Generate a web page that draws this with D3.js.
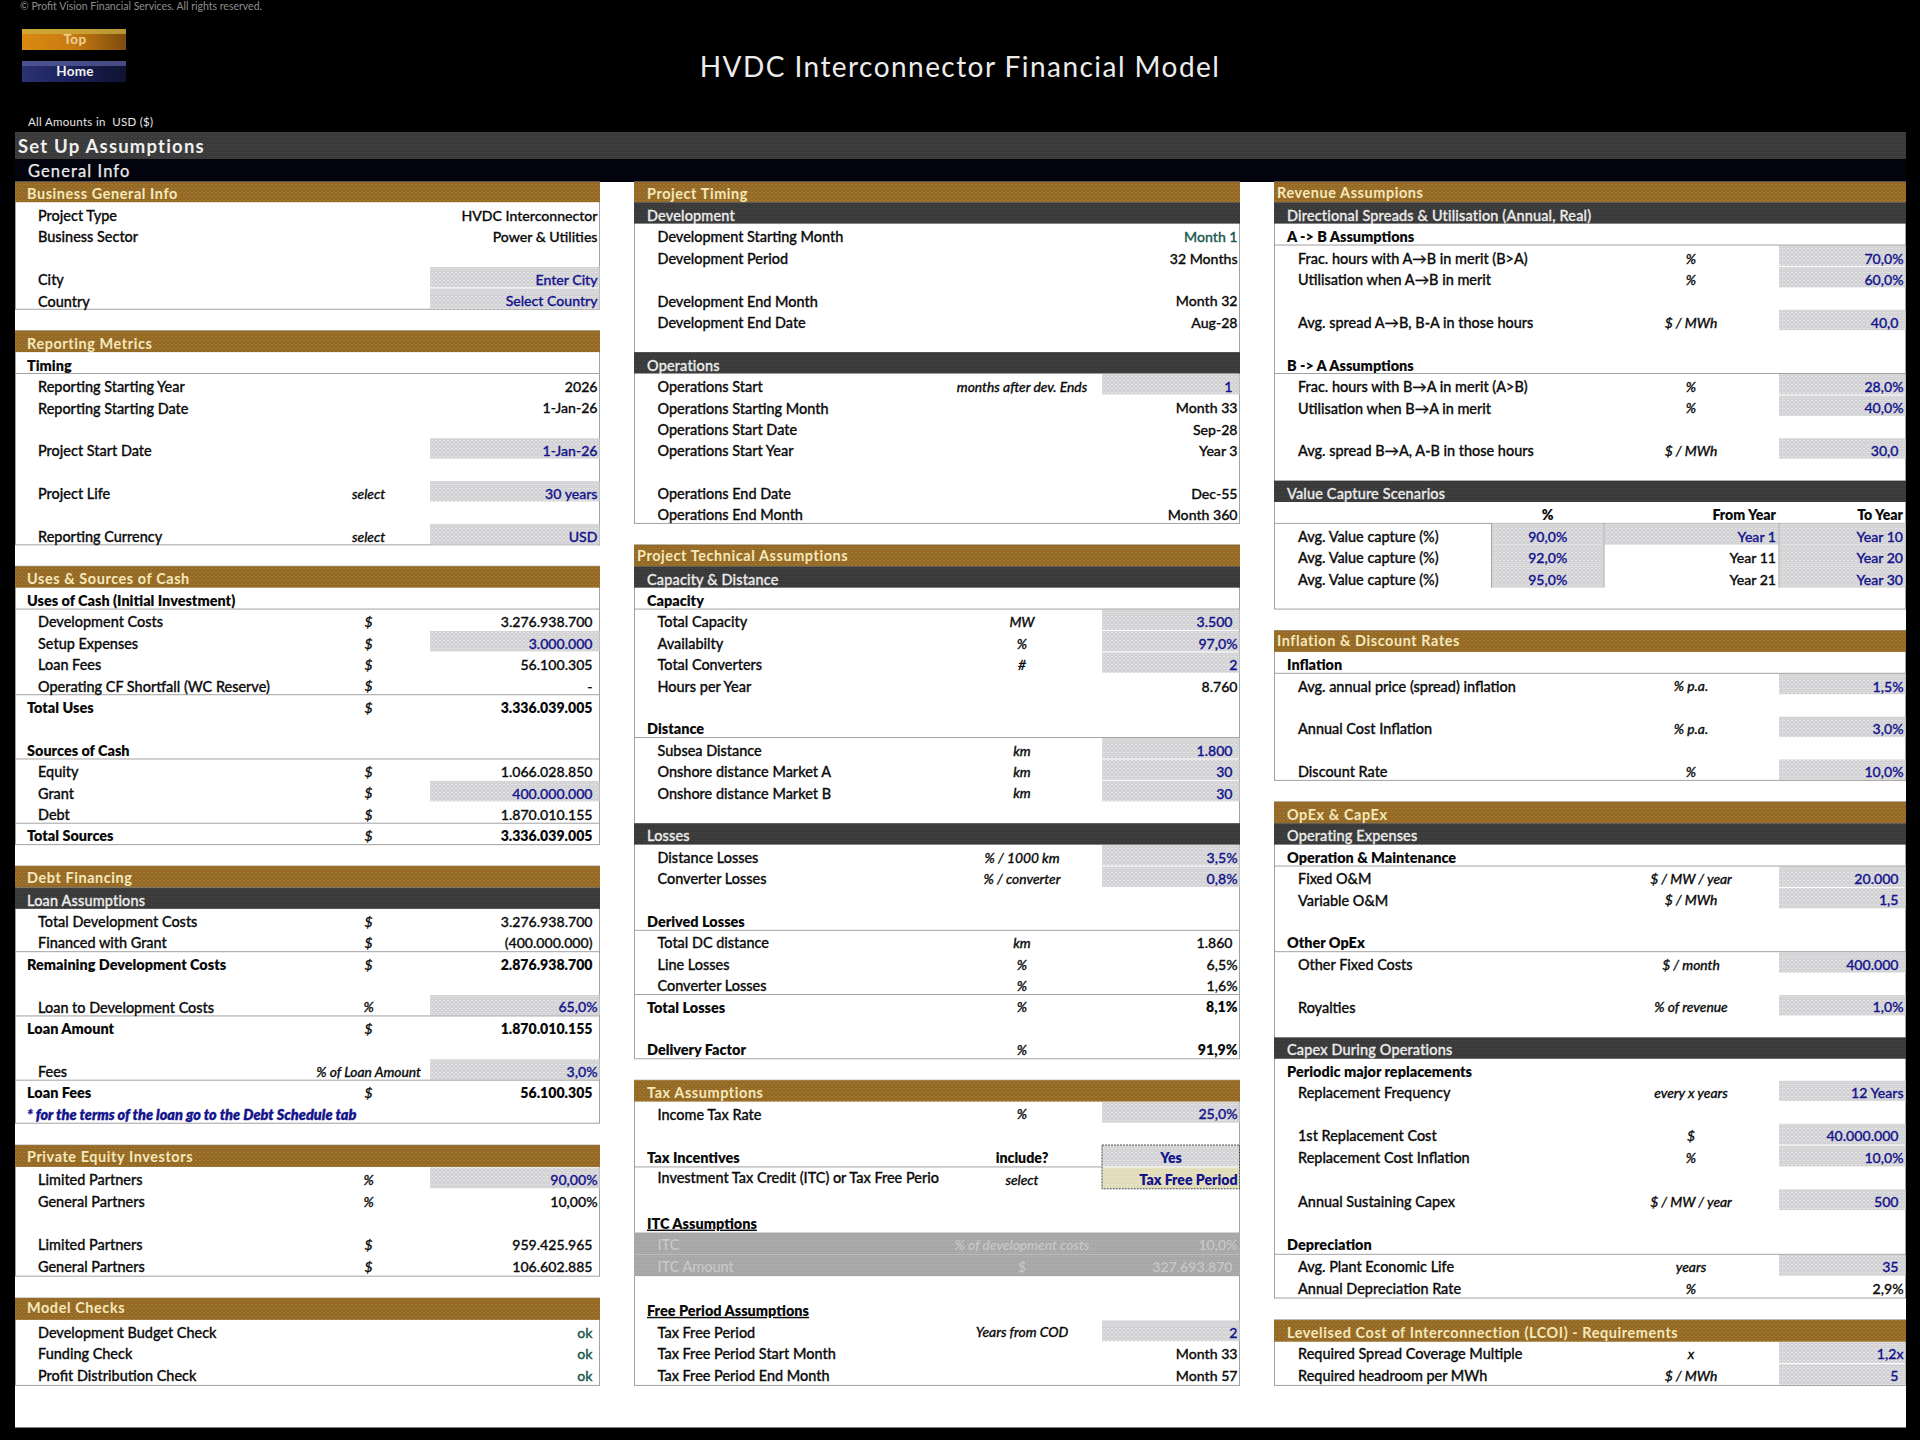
<![CDATA[<!DOCTYPE html>
<html>
<head>
<meta charset="utf-8">
<title>HVDC Interconnector Financial Model</title>
<script src="https://cdn.jsdelivr.net/npm/d3@7"></script>
<style>
  html, body { margin: 0; padding: 0; background: #000; }
  svg { display: block; }
  text { font-family: Lato, "Open Sans", sans-serif; white-space: pre; }
</style>
</head>
<body>
<div id="sheet"></div>
<script>
// row kinds: head = gold bar, dark = dark bar, sub = bold + rule below, total = bold + rule above,
// bold, note, ul = underlined bold, input, off = disabled band, choice = dropdown, pad = empty but inside the box
const leftRows = [
  ["head", "Business General Info"],
  ["", "Project Type", "", "HVDC Interconnector"],
  ["", "Business Sector", "", "Power & Utilities"],
  [],
  ["input", "City", "", "Enter City"],
  ["input", "Country", "", "Select Country"],
  [],
  ["head", "Reporting Metrics"],
  ["sub", "Timing"],
  ["", "Reporting Starting Year", "", "2026"],
  ["", "Reporting Starting Date", "", "1-Jan-26"],
  [],
  ["input", "Project Start Date", "", "1-Jan-26"],
  [],
  ["input", "Project Life", "select", "30 years"],
  [],
  ["input", "Reporting Currency", "select", "USD"],
  [],
  ["head", "Uses & Sources of Cash"],
  ["sub", "Uses of Cash (Initial Investment)"],
  ["", "Development Costs", "$", "3.276.938.700"],
  ["input", "Setup Expenses", "$", "3.000.000"],
  ["", "Loan Fees", "$", "56.100.305"],
  ["", "Operating CF Shortfall (WC Reserve)", "$", "-"],
  ["total", "Total Uses", "$", "3.336.039.005"],
  [],
  ["sub", "Sources of Cash"],
  ["", "Equity", "$", "1.066.028.850"],
  ["input", "Grant", "$", "400.000.000"],
  ["", "Debt", "$", "1.870.010.155"],
  ["total", "Total Sources", "$", "3.336.039.005"],
  [],
  ["head", "Debt Financing"],
  ["dark", "Loan Assumptions"],
  ["", "Total Development Costs", "$", "3.276.938.700"],
  ["", "Financed with Grant", "$", "(400.000.000)"],
  ["total", "Remaining Development Costs", "$", "2.876.938.700"],
  [],
  ["input", "Loan to Development Costs", "%", "65,0%"],
  ["total", "Loan Amount", "$", "1.870.010.155"],
  [],
  ["input", "Fees", "% of Loan Amount", "3,0%"],
  ["total", "Loan Fees", "$", "56.100.305"],
  ["note", "* for the terms of the loan go to the Debt Schedule tab"],
  [],
  ["head", "Private Equity Investors"],
  ["input", "Limited Partners", "%", "90,00%"],
  ["", "General Partners", "%", "10,00%"],
  [],
  ["", "Limited Partners", "$", "959.425.965"],
  ["", "General Partners", "$", "106.602.885"],
  [],
  ["head", "Model Checks"],
  ["check", "Development Budget Check", "", "ok"],
  ["check", "Funding Check", "", "ok"],
  ["check", "Profit Distribution Check", "", "ok"]
];

const middleRows = [
  ["head", "Project Timing"],
  ["dark", "Development"],
  ["check", "Development Starting Month", "", "Month 1"],
  ["", "Development Period", "", "32 Months"],
  [],
  ["", "Development End Month", "", "Month 32"],
  ["", "Development End Date", "", "Aug-28"],
  [],
  ["dark", "Operations"],
  ["input", "Operations Start", "months after dev. Ends", "1"],
  ["", "Operations Starting Month", "", "Month 33"],
  ["", "Operations Start Date", "", "Sep-28"],
  ["", "Operations Start Year", "", "Year 3"],
  [],
  ["", "Operations End Date", "", "Dec-55"],
  ["", "Operations End Month", "", "Month 360"],
  [],
  ["head", "Project Technical Assumptions"],
  ["dark", "Capacity & Distance"],
  ["sub", "Capacity"],
  ["input", "Total Capacity", "MW", "3.500"],
  ["input", "Availabilty", "%", "97,0%"],
  ["input", "Total Converters", "#", "2"],
  ["", "Hours per Year", "", "8.760"],
  [],
  ["sub", "Distance"],
  ["input", "Subsea Distance", "km", "1.800"],
  ["input", "Onshore distance Market A", "km", "30"],
  ["input", "Onshore distance Market B", "km", "30"],
  [],
  ["dark", "Losses"],
  ["input", "Distance Losses", "% / 1000 km", "3,5%"],
  ["input", "Converter Losses", "% / converter", "0,8%"],
  [],
  ["sub", "Derived Losses"],
  ["", "Total DC distance", "km", "1.860"],
  ["", "Line Losses", "%", "6,5%"],
  ["", "Converter Losses", "%", "1,6%"],
  ["total", "Total Losses", "%", "8,1%"],
  [],
  ["bold", "Delivery Factor", "%", "91,9%"],
  [],
  ["head", "Tax Assumptions"],
  ["input", "Income Tax Rate", "%", "25,0%"],
  [],
  ["yes", "Tax Incentives", "include?", "Yes"],
  ["choice", "Investment Tax Credit (ITC) or Tax Free Perio", "select", "Tax Free Period"],
  [],
  ["ul", "ITC Assumptions"],
  ["off", "ITC", "% of development costs", "10,0%"],
  ["off", "ITC Amount", "$", "327.693.870"],
  [],
  ["ul", "Free Period Assumptions"],
  ["input", "Tax Free Period", "Years from COD", "2"],
  ["", "Tax Free Period Start Month", "", "Month 33"],
  ["", "Tax Free Period End Month", "", "Month 57"]
];

const rightRows = [
  ["head", "Revenue Assumpions"],
  ["dark", "Directional Spreads & Utilisation (Annual, Real)"],
  ["sub", "A -> B Assumptions"],
  ["input", "Frac. hours with A→B in merit (B>A)", "%", "70,0%"],
  ["input", "Utilisation when A→B in merit", "%", "60,0%"],
  [],
  ["input", "Avg. spread A→B, B-A in those hours", "$ / MWh", "40,0"],
  [],
  ["sub", "B -> A Assumptions"],
  ["input", "Frac. hours with B→A in merit (A>B)", "%", "28,0%"],
  ["input", "Utilisation when B→A in merit", "%", "40,0%"],
  [],
  ["input", "Avg. spread B→A, A-B in those hours", "$ / MWh", "30,0"],
  [],
  ["dark", "Value Capture Scenarios"],
  ["scenhead"],
  ["scen", "Avg. Value capture (%)"],
  ["scen", "Avg. Value capture (%)"],
  ["scen", "Avg. Value capture (%)"],
  ["pad"],
  [],
  ["head", "Inflation & Discount Rates"],
  ["sub", "Inflation"],
  ["input", "Avg. annual price (spread) inflation", "% p.a.", "1,5%"],
  [],
  ["input", "Annual Cost Inflation", "% p.a.", "3,0%"],
  [],
  ["input", "Discount Rate", "%", "10,0%"],
  [],
  ["head", "OpEx & CapEx"],
  ["dark", "Operating Expenses"],
  ["sub", "Operation & Maintenance"],
  ["input", "Fixed O&M", "$ / MW / year", "20.000"],
  ["input", "Variable O&M", "$ / MWh", "1,5"],
  [],
  ["sub", "Other OpEx"],
  ["input", "Other Fixed Costs", "$ / month", "400.000"],
  [],
  ["input", "Royalties", "% of revenue", "1,0%"],
  [],
  ["dark", "Capex During Operations"],
  ["bold", "Periodic major replacements"],
  ["input", "Replacement Frequency", "every x years", "12 Years"],
  [],
  ["input", "1st Replacement Cost", "$", "40.000.000"],
  ["input", "Replacement Cost Inflation", "%", "10,0%"],
  [],
  ["input", "Annual Sustaining Capex", "$ / MW / year", "500"],
  [],
  ["sub", "Depreciation"],
  ["input", "Avg. Plant Economic Life", "years", "35"],
  ["", "Annual Depreciation Rate", "%", "2,9%"],
  [],
  ["head", "Levelised Cost of Interconnection (LCOI) - Requirements"],
  ["input", "Required Spread Coverage Multiple", "x", "1,2x"],
  ["input", "Required headroom per MWh", "$ / MWh", "5"]
];

const scenarioHeads = ["%", "From Year", "To Year"];
const scenarioPct = ["90,0%", "92,0%", "95,0%"];
const scenarioFrom = ["Year 1", "Year 11", "Year 21"];
const scenarioTo = ["Year 10", "Year 20", "Year 30"];
const flushNumbers = ["2026", "8.760", "2"];

const W = 1920, H = 1440;
const colors = {
  goldText: "#f5e8bc", darkText: "#ececec", blue: "#14148c", green: "#17584f",
  rule: "#a2a2a2", ink: "#0b0b0b", offText: "#c9c9c9"
};

const y = d3.scaleLinear().domain([0, 43, 55]).range([193.5, 1114.3, 1376.5]);
const top_ = i => Math.max(182, y(i - 0.5) - 2), bot = i => y(i + 0.5) - 2;
// text sits a little low in the upper rows and centred in the last ones
const textY = d3.scaleLinear().domain([0, 43, 55]).range([194.5, 1114.5, 1376.2]);

const panels = [
  { rows: leftRows, x0: 15, x1: 600, headX: 27, sectionX: 27, labelX: 38, unitX: 368.6, inputX: 430, valueX: 597.5 },
  { rows: middleRows, x0: 634, x1: 1240, headX: 647, sectionX: 647, labelX: 657.5, unitX: 1022, inputX: 1102, valueX: 1237.5 },
  { rows: rightRows, x0: 1274, x1: 1906, headX: 1287, sectionX: 1287, labelX: 1298, unitX: 1691, inputX: 1779, valueX: 1903.5 }
];
const headNudge = { "Project Technical Assumptions": 637, "Revenue Assumpions": 1277, "Inflation & Discount Rates": 1277 };
// a few gold titles sit higher in their row than the rest
const headLift = {
  "Debt Financing": 1.6, "Private Equity Investors": 1.6, "Model Checks": 2.4, "Revenue Assumpions": 2,
  "Project Technical Assumptions": 2, "Inflation & Discount Rates": 2.6, "Business General Info": 0.6,
  "Project Timing": 0.6, "Uses & Sources of Cash": 0.6, "Tax Assumptions": 0.4, "OpEx & CapEx": 0.4
};

const svg = d3.select("#sheet").append("svg").attr("width", W).attr("height", H);
svg.append("rect").attr("width", W).attr("height", H).attr("fill", "#000");

const defs = svg.append("defs");
const dither = (id, base, dot) => {
  const p = defs.append("pattern").attr("id", id).attr("patternUnits", "userSpaceOnUse").attr("width", 4).attr("height", 4);
  p.append("rect").attr("width", 4).attr("height", 4).attr("fill", base);
  [[0, 0], [2, 2], [3, 0]].forEach(d => p.append("rect").attr("x", d[0]).attr("y", d[1]).attr("width", 1).attr("height", 1).attr("fill", dot));
};
dither("fillGold", "#946925", "#a57c32");
dither("fillDark", "#393939", "#464646");
dither("fillInput", "#d3d3d6", "#e6e6e8");
dither("fillOff", "#a6a6a6", "#b4b4b4");
dither("fillChoice", "#e1dcb8", "#ece8cd");
const fillOf = { head: "url(#fillGold)", dark: "url(#fillDark)", off: "url(#fillOff)", choice: "url(#fillChoice)", input: "url(#fillInput)", yes: "url(#fillInput)" };

// banner
svg.append("text").attr("x", 20).attr("y", 10).attr("font-size", 10.5).attr("fill", "#8d8d8d")
  .text("© Profit Vision Financial Services. All rights reserved.");
svg.append("text").attr("x", 960).attr("y", 67).attr("dy", ".35em").attr("text-anchor", "middle")
  .attr("font-size", 28).attr("letter-spacing", 1.45).attr("fill", "#ececec")
  .text("HVDC Interconnector Financial Model");
svg.append("text").attr("x", 28).attr("y", 122).attr("dy", ".35em").attr("font-size", 11.5).attr("letter-spacing", 0.3).attr("fill", "#e6e6e6")
  .text("All Amounts in  USD ($)");

const grad = (id, a, b, c) => {
  const g = defs.append("linearGradient").attr("id", id).attr("x1", 0).attr("y1", 0).attr("x2", 1).attr("y2", 0);
  g.append("stop").attr("offset", "0%").attr("stop-color", a);
  g.append("stop").attr("offset", "50%").attr("stop-color", b);
  g.append("stop").attr("offset", "100%").attr("stop-color", c);
};
grad("btnTop", "#d98a12", "#c87a10", "#7c4c10");
grad("btnHome", "#2c3272", "#1a2058", "#0f1230");
const buttons = [["Top", 29, "url(#btnTop)", "#ecd09a", "#c9b040"], ["Home", 61, "url(#btnHome)", "#f2f2f2", "#5a5e9e"]];
svg.selectAll("g.btn").data(buttons).join("g").attr("class", "btn").each(function (d) {
  const g = d3.select(this);
  g.append("rect").attr("x", 22).attr("y", d[1]).attr("width", 104).attr("height", 21).attr("fill", d[2]);
  g.append("rect").attr("x", 22).attr("y", d[1]).attr("width", 104).attr("height", 5).attr("fill", d[4]).attr("opacity", 0.75);
  g.append("text").attr("x", 75).attr("y", d[1] + 10.5).attr("dy", ".35em").attr("text-anchor", "middle")
    .attr("font-size", 13.5).attr("font-weight", 700).attr("letter-spacing", 0.3).attr("fill", d[3]).text(d[0]);
});

svg.append("rect").attr("x", 15).attr("y", 132).attr("width", 1891).attr("height", 27).attr("fill", "url(#fillDark)");
svg.append("text").attr("x", 18).attr("y", 146.5).attr("dy", ".35em").attr("font-size", 18.5).attr("font-weight", 700)
  .attr("letter-spacing", 1.2).attr("fill", "#f0f0f0").text("Set Up Assumptions");
svg.append("rect").attr("x", 15).attr("y", 159).attr("width", 1891).attr("height", 23).attr("fill", "#03030d");
svg.append("text").attr("x", 28).attr("y", 171).attr("dy", ".35em").attr("font-size", 16.5)
  .attr("letter-spacing", 1.1).attr("fill", "#ececec").attr("stroke", "#ececec").attr("stroke-width", 0.25).text("General Info");

// sheet body
svg.append("rect").attr("x", 15).attr("y", 182).attr("width", 1891).attr("height", 1245.5).attr("fill", "#fff");

const isBoldKind = k => ["sub", "total", "bold", "ul", "yes"].includes(k);
const isInputKind = k => k === "input" || k === "yes" || k === "choice";

panels.forEach(p => {
  const rows = p.rows.map((r, i) => ({ i, kind: r[0] || "", label: r[1], unit: r[2], value: r[3], empty: r.length === 0 }));
  const g = svg.append("g");

  // boxes: one per gold header, down to the last used row before the next one
  const heads = rows.filter(r => r.kind === "head");
  heads.forEach((h, n) => {
    const next = n + 1 < heads.length ? heads[n + 1].i : rows.length;
    const last = d3.max(rows.filter(r => r.i >= h.i && r.i < next && !r.empty), r => r.i);
    g.append("rect").attr("x", p.x0 + 0.5).attr("y", top_(h.i)).attr("width", p.x1 - p.x0 - 1)
      .attr("height", bot(last) - top_(h.i)).attr("fill", "#fff").attr("stroke", colors.rule).attr("stroke-width", 1);
  });

  // fills
  g.selectAll("rect.band").data(rows.filter(r => ["head", "dark", "off"].includes(r.kind))).join("rect")
    .attr("class", "band")
    .attr("x", p.x0).attr("y", r => top_(r.i)).attr("width", p.x1 - p.x0).attr("height", r => bot(r.i) - top_(r.i))
    .attr("fill", r => fillOf[r.kind]);
  g.selectAll("rect.cell").data(rows.filter(r => isInputKind(r.kind))).join("rect")
    .attr("class", "cell")
    .attr("x", p.inputX).attr("y", r => top_(r.i) + 0.5).attr("width", p.x1 - p.inputX - 0.5)
    .attr("height", r => bot(r.i) - top_(r.i) - 1)
    .attr("fill", r => fillOf[r.kind]);

  // dropdown frame
  const yes = rows.find(r => r.kind === "yes");
  if (yes) {
    g.append("rect").attr("x", p.inputX).attr("y", top_(yes.i)).attr("width", p.x1 - p.inputX - 0.5)
      .attr("height", bot(yes.i + 1) - top_(yes.i)).attr("fill", "none").attr("stroke", "#444").attr("stroke-dasharray", "2 1");
  }

  // rules
  g.selectAll("line.rule").data(rows.filter(r => r.kind === "sub" || r.kind === "total" || r.kind === "yes" || r.kind === "scenhead")).join("line")
    .attr("class", "rule")
    .attr("x1", p.x0).attr("x2", r => r.kind === "yes" ? p.inputX : p.x1)
    .attr("y1", r => r.kind === "total" ? top_(r.i) : bot(r.i))
    .attr("y2", r => r.kind === "total" ? top_(r.i) : bot(r.i))
    .attr("stroke", colors.rule).attr("stroke-width", 1);

  // labels
  const labelFill = r => r.kind === "head" ? colors.goldText : r.kind === "dark" ? colors.darkText
    : r.kind === "note" ? colors.blue : r.kind === "off" ? colors.offText : colors.ink;
  const noStroke = k => k === "head" || k === "off" || isBoldKind(k);
  g.selectAll("text.label").data(rows.filter(r => r.label)).join("text")
    .attr("class", "label")
    .attr("x", r => {
      if (r.kind === "head") return headNudge[r.label] || p.headX;
      if (["dark", "sub", "total", "bold", "ul", "note", "yes"].includes(r.kind)) return p.sectionX;
      return p.labelX;
    })
    .attr("y", r => textY(r.i) - (r.kind === "choice" ? 2 : 0) - (r.kind === "head" ? headLift[r.label] || 0 : 0))
    .attr("dy", ".35em")
    .attr("font-size", 14.45)
    .attr("letter-spacing", r => r.kind === "head" ? 0.58 : r.kind === "dark" ? 0.18 : null)
    .attr("font-weight", r => isBoldKind(r.kind) || r.kind === "note" ? 800 : r.kind === "head" ? 700 : 500)
    .attr("font-style", r => r.kind === "note" ? "italic" : null)
    .attr("text-decoration", r => r.kind === "ul" ? "underline" : null)
    .attr("fill", labelFill)
    .attr("stroke", r => noStroke(r.kind) ? "none" : labelFill(r))
    .attr("stroke-width", 0.3)
    .text(r => r.label);

  // units
  const unitFill = r => r.kind === "off" ? colors.offText : colors.ink;
  g.selectAll("text.unit").data(rows.filter(r => r.unit)).join("text")
    .attr("class", "unit")
    .attr("x", p.unitX).attr("y", r => textY(r.i)).attr("dy", ".35em").attr("text-anchor", "middle")
    .attr("font-size", r => r.kind === "yes" ? 14.2 : 13.8).attr("font-weight", r => r.kind === "yes" ? 800 : 500)
    .attr("font-style", r => r.kind === "yes" ? null : "italic")
    .attr("fill", unitFill).attr("stroke", r => r.kind === "off" || r.kind === "yes" ? "none" : unitFill(r)).attr("stroke-width", 0.3)
    .text(r => r.unit);

  // values
  const padded = r => /^[\d.()-]+$/.test(r.value) && !flushNumbers.includes(r.value) || r.value === "ok" ||
    /^\d+,\d$/.test(r.value);
  const valueFill = r => isInputKind(r.kind) ? colors.blue : r.kind === "check" ? colors.green
    : r.kind === "off" ? colors.offText : colors.ink;
  g.selectAll("text.value").data(rows.filter(r => r.value)).join("text")
    .attr("class", "value")
    .attr("x", r => r.kind === "yes" ? (p.inputX + p.x1) / 2 : p.valueX - (padded(r) ? 5 : 0))
    .attr("y", r => textY(r.i)).attr("dy", ".35em")
    .attr("text-anchor", r => r.kind === "yes" ? "middle" : "end")
    .attr("font-size", 14.1)
    .attr("font-weight", r => isBoldKind(r.kind) || r.kind === "choice" ? 800 : 500)
    .attr("fill", valueFill)
    .attr("stroke", r => r.kind === "off" || isBoldKind(r.kind) || r.kind === "choice" ? "none" : valueFill(r)).attr("stroke-width", 0.3)
    .text(r => r.value);

  // value capture table
  const scen = rows.filter(r => r.kind === "scen");
  const head = rows.find(r => r.kind === "scenhead");
  if (head) {
    const cols = [{ x0: 1491.5, x1: 1604, vals: scenarioPct, mid: true }, { x0: 1604, x1: 1779, vals: scenarioFrom }, { x0: 1779, x1: 1906, vals: scenarioTo }];
    cols.forEach((c, ci) => {
      const cellFill = (r, n) => ci === 1 && n > 0 ? colors.ink : colors.blue;
      g.selectAll(null).data(scen).join("rect")
        .attr("x", c.x0 + 0.5).attr("y", r => top_(r.i)).attr("width", c.x1 - c.x0 - 1).attr("height", r => bot(r.i) - top_(r.i))
        .attr("fill", (r, n) => ci === 1 && n > 0 ? "#fff" : fillOf.input);
      g.append("line").attr("x1", c.x0).attr("x2", c.x0).attr("y1", top_(scen[0].i)).attr("y2", bot(scen[2].i))
        .attr("stroke", colors.rule);
      g.selectAll(null).data(scen).join("text")
        .attr("x", c.mid ? (c.x0 + c.x1) / 2 : c.x1 - 3).attr("y", r => textY(r.i)).attr("dy", ".35em")
        .attr("text-anchor", c.mid ? "middle" : "end").attr("font-size", 14.1).attr("font-weight", 500)
        .attr("fill", cellFill).attr("stroke", cellFill).attr("stroke-width", 0.3)
        .text((r, n) => c.vals[n]);
      g.append("text").attr("x", c.mid ? (c.x0 + c.x1) / 2 : c.x1 - 3).attr("y", textY(head.i)).attr("dy", ".35em")
        .attr("text-anchor", c.mid ? "middle" : "end").attr("font-size", 14.1).attr("font-weight", 800)
        .attr("fill", colors.ink).text(scenarioHeads[ci]);
    });
  }
});
</script>
</body>
</html>
]]>
